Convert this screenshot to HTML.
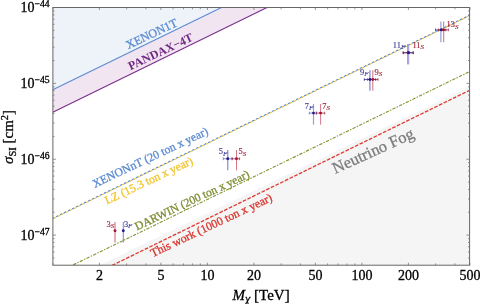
<!DOCTYPE html>
<html><head><meta charset="utf-8"><title>plot</title>
<style>
html,body{margin:0;padding:0;background:#fff;}
body{width:480px;height:304px;overflow:hidden;}
svg{display:block;}
text{font-family:"Liberation Serif","DejaVu Serif",serif;stroke-width:0.3px;}
</style></head><body>
<svg width="480" height="304" viewBox="0 0 480 304">
<rect width="480" height="304" fill="#fff"/>

<defs><clipPath id="fr"><rect x="52.9" y="7.5" width="416.70000000000005" height="257.7"/></clipPath></defs>
<g clip-path="url(#fr)">
<polygon points="0,-100 0.00,115.62 520.00,-138.21 520,-100" fill="#edf3f9"/>
<polygon points="0.00,115.62 0.00,138.19 520.00,-116.34 520.00,-138.21" fill="#f1e5f1"/>
<polygon points="0.00,313.66 520.00,62.12 520,400 0,400" fill="#f5f5f5"/>
<line x1="0.00" y1="115.62" x2="520.00" y2="-138.21" stroke="#5b8bd0" stroke-width="1.1"/>
<line x1="0.00" y1="138.19" x2="520.00" y2="-116.34" stroke="#7a2d8c" stroke-width="1.1"/>
<line x1="0.00" y1="244.58" x2="520.00" y2="-8.87" stroke="#f4c936" stroke-width="1.15" stroke-dasharray="2.5 1.95" stroke-dashoffset="2.2"/>
<line x1="0.00" y1="244.08" x2="520.00" y2="-9.37" stroke="#5b8bd0" stroke-width="1.15" stroke-dasharray="2.4 2.05"/>
<line x1="0.00" y1="300.55" x2="520.00" y2="47.03" stroke="#869637" stroke-width="1.15" stroke-dasharray="3.4 1.3 1.4 1.3"/>
<line x1="0.00" y1="320.35" x2="520.00" y2="65.61" stroke="#dd3a32" stroke-width="1.3" stroke-dasharray="3.7 1.5"/>
</g>
<rect x="52.9" y="7.5" width="416.70000000000005" height="257.7" fill="none" stroke="#666" stroke-width="1"/>
<path d="M52.90,265.2v-1.8M52.90,7.5v1.8M99.41,265.2v-2.5M99.41,7.5v2.5M126.62,265.2v-1.8M126.62,7.5v1.8M145.92,265.2v-1.8M145.92,7.5v1.8M160.89,265.2v-2.5M160.89,7.5v2.5M173.12,265.2v-1.8M173.12,7.5v1.8M183.47,265.2v-1.8M183.47,7.5v1.8M192.43,265.2v-1.8M192.43,7.5v1.8M200.33,265.2v-1.8M200.33,7.5v1.8M207.40,265.2v-2.5M207.40,7.5v2.5M253.91,265.2v-2.5M253.91,7.5v2.5M281.12,265.2v-1.8M281.12,7.5v1.8M300.42,265.2v-1.8M300.42,7.5v1.8M315.39,265.2v-2.5M315.39,7.5v2.5M327.62,265.2v-1.8M327.62,7.5v1.8M337.97,265.2v-1.8M337.97,7.5v1.8M346.93,265.2v-1.8M346.93,7.5v1.8M354.83,265.2v-1.8M354.83,7.5v1.8M361.90,265.2v-2.5M361.90,7.5v2.5M408.41,265.2v-2.5M408.41,7.5v2.5M435.62,265.2v-1.8M435.62,7.5v1.8M454.92,265.2v-1.8M454.92,7.5v1.8M469.89,265.2v-2.5M469.89,7.5v2.5M52.9,257.95h1.6M469.6,257.95h-1.6M52.9,251.94h1.6M469.6,251.94h-1.6M52.9,246.86h1.6M469.6,246.86h-1.6M52.9,242.46h1.6M469.6,242.46h-1.6M52.9,238.58h1.6M469.6,238.58h-1.6M52.9,235.11h3.2M469.6,235.11h-3.2M52.9,212.27h1.6M469.6,212.27h-1.6M52.9,198.91h1.6M469.6,198.91h-1.6M52.9,189.43h1.6M469.6,189.43h-1.6M52.9,182.08h1.6M469.6,182.08h-1.6M52.9,176.07h1.6M469.6,176.07h-1.6M52.9,170.99h1.6M469.6,170.99h-1.6M52.9,166.59h1.6M469.6,166.59h-1.6M52.9,162.71h1.6M469.6,162.71h-1.6M52.9,159.24h3.2M469.6,159.24h-3.2M52.9,136.40h1.6M469.6,136.40h-1.6M52.9,123.04h1.6M469.6,123.04h-1.6M52.9,113.56h1.6M469.6,113.56h-1.6M52.9,106.21h1.6M469.6,106.21h-1.6M52.9,100.20h1.6M469.6,100.20h-1.6M52.9,95.12h1.6M469.6,95.12h-1.6M52.9,90.72h1.6M469.6,90.72h-1.6M52.9,86.84h1.6M469.6,86.84h-1.6M52.9,83.37h3.2M469.6,83.37h-3.2M52.9,60.53h1.6M469.6,60.53h-1.6M52.9,47.17h1.6M469.6,47.17h-1.6M52.9,37.69h1.6M469.6,37.69h-1.6M52.9,30.34h1.6M469.6,30.34h-1.6M52.9,24.33h1.6M469.6,24.33h-1.6M52.9,19.25h1.6M469.6,19.25h-1.6M52.9,14.85h1.6M469.6,14.85h-1.6M52.9,10.97h1.6M469.6,10.97h-1.6M52.9,7.50h3.2M469.6,7.50h-3.2" stroke="#6a6a6a" stroke-width="0.7" fill="none"/>
<text x="99.4" y="280.2" font-size="14" text-anchor="middle" fill="#000" stroke="#000">2</text>
<text x="160.9" y="280.2" font-size="14" text-anchor="middle" fill="#000" stroke="#000">5</text>
<text x="207.4" y="280.2" font-size="14" text-anchor="middle" fill="#000" stroke="#000">10</text>
<text x="253.9" y="280.2" font-size="14" text-anchor="middle" fill="#000" stroke="#000">20</text>
<text x="315.4" y="280.2" font-size="14" text-anchor="middle" fill="#000" stroke="#000">50</text>
<text x="361.9" y="280.2" font-size="14" text-anchor="middle" fill="#000" stroke="#000">100</text>
<text x="408.4" y="280.2" font-size="14" text-anchor="middle" fill="#000" stroke="#000">200</text>
<text x="469.9" y="280.2" font-size="14" text-anchor="middle" fill="#000" stroke="#000">500</text>
<text x="20.6" y="12.3" font-size="14" fill="#000" stroke="#000">10<tspan dy="-5.4" font-size="9.6">−44</tspan></text>
<text x="20.6" y="88.2" font-size="14" fill="#000" stroke="#000">10<tspan dy="-5.4" font-size="9.6">−45</tspan></text>
<text x="20.6" y="164.0" font-size="14" fill="#000" stroke="#000">10<tspan dy="-5.4" font-size="9.6">−46</tspan></text>
<text x="20.6" y="239.9" font-size="14" fill="#000" stroke="#000">10<tspan dy="-5.4" font-size="9.6">−47</tspan></text>
<text x="232.5" y="300" font-size="15" fill="#000" stroke="#000"><tspan font-style="italic">M</tspan><tspan font-style="italic" font-size="12" dy="3.4">χ</tspan><tspan dy="-3.4"> [TeV]</tspan></text>
<text transform="translate(13.3,164) rotate(-90)" font-size="15" fill="#000" stroke="#000"><tspan font-style="italic">σ</tspan><tspan font-size="10.5" dy="2.5">SI</tspan><tspan dy="-2.5"> [cm</tspan><tspan font-size="10.5" dy="-5.5">2</tspan><tspan dy="5.5">]</tspan></text>
<text transform="translate(128.3,49.2) rotate(-25.3)" font-size="12.0" fill="#5b8bd0"  stroke="#5b8bd0">XENON1T</text>
<text transform="translate(130.5,70.2) rotate(-25.3)" font-size="11.95" fill="#6f2a82" font-weight="bold">PANDAX−4T</text>
<text transform="translate(94.7,187.89999999999998) rotate(-25.3)" font-size="11.75" fill="#5b8bd0"  stroke="#5b8bd0">XENONnT (20 ton x year)</text>
<text transform="translate(107.0,204.5) rotate(-25.3)" font-size="11.8" fill="#f2c52e"  stroke="#f2c52e">LZ (15.3 ton x year)</text>
<text transform="translate(137.0,230.5) rotate(-25.3)" font-size="11.7" fill="#7f8f35"  stroke="#7f8f35">DARWIN (200 ton x year)</text>
<text transform="translate(152.7,257.2) rotate(-25.3)" font-size="11.85" fill="#d8352e"  stroke="#d8352e">This work (1000 ton x year)</text>
<text transform="translate(335.3,173.89999999999998) rotate(-24.5)" font-size="16.4" fill="#7d7d7d"  stroke="#7d7d7d">Neutrino Fog</text>
<line x1="115" y1="222" x2="115" y2="242.5" stroke="#d4788a" stroke-width="1.2"/>
<line x1="123.3" y1="222" x2="123.3" y2="242.5" stroke="#7070c8" stroke-width="0.9"/>
<circle cx="115" cy="230.8" r="1.45" fill="#a3122f"/>
<circle cx="123.3" cy="230.8" r="1.45" fill="#1c1c8f"/>
<text x="106.6" y="226.5" font-size="8.4" fill="#9c2236" style="stroke-width:0.15px" stroke="#9c2236">3<tspan font-style="italic" font-size="6.9" dy="1.4">S</tspan></text>
<text x="123.9" y="226.5" font-size="8.4" fill="#3a3a96" style="stroke-width:0.15px" stroke="#3a3a96">3<tspan font-style="italic" font-size="6.9" dy="1.4">F</tspan></text>
<line x1="227.75" y1="150" x2="227.75" y2="170.3" stroke="#9a9add" stroke-width="1.4"/>
<line x1="236.5" y1="150" x2="236.5" y2="170.3" stroke="#d4788a" stroke-width="1.0"/>
<path d="M223.3,158.75H232.1M223.3,157.35v2.8M232.1,157.35v2.8" stroke="#5a5ab8" stroke-width="0.7" fill="none"/>
<path d="M232.1,158.75H239.6M232.1,157.35v2.8M239.6,157.35v2.8" stroke="#a3122f" stroke-width="0.7" fill="none"/>
<circle cx="227.75" cy="158.75" r="1.45" fill="#1c1c8f"/>
<circle cx="236.5" cy="158.75" r="1.45" fill="#a3122f"/>
<text x="218.8" y="154.3" font-size="8.4" fill="#3a3a96" style="stroke-width:0.15px" stroke="#3a3a96">5<tspan font-style="italic" font-size="6.9" dy="1.4">F</tspan></text>
<text x="238.6" y="154.3" font-size="8.4" fill="#9c2236" style="stroke-width:0.15px" stroke="#9c2236">5<tspan font-style="italic" font-size="6.9" dy="1.4">S</tspan></text>
<line x1="313.5" y1="104" x2="313.5" y2="124.7" stroke="#9a9add" stroke-width="1.2"/>
<line x1="320.6" y1="104" x2="320.6" y2="124.7" stroke="#d4788a" stroke-width="1.0"/>
<path d="M309.3,113.1H316.4M309.3,111.69999999999999v2.8M316.4,111.69999999999999v2.8" stroke="#5a5ab8" stroke-width="0.7" fill="none"/>
<path d="M316.4,113.1H324.7M316.4,111.69999999999999v2.8M324.7,111.69999999999999v2.8" stroke="#a3122f" stroke-width="0.7" fill="none"/>
<circle cx="313.5" cy="113.1" r="1.45" fill="#1c1c8f"/>
<circle cx="320.6" cy="113.1" r="1.45" fill="#a3122f"/>
<text x="304.8" y="108.5" font-size="8.4" fill="#3a3a96" style="stroke-width:0.15px" stroke="#3a3a96">7<tspan font-style="italic" font-size="6.9" dy="1.4">F</tspan></text>
<text x="322.3" y="108.5" font-size="8.4" fill="#9c2236" style="stroke-width:0.15px" stroke="#9c2236">7<tspan font-style="italic" font-size="6.9" dy="1.4">S</tspan></text>
<line x1="369.9" y1="70.3" x2="369.9" y2="90.8" stroke="#9a9add" stroke-width="1.5"/>
<line x1="372.8" y1="70.3" x2="372.8" y2="90.8" stroke="#d4788a" stroke-width="1.1"/>
<path d="M364.3,79.5H375.7M364.3,78.1v2.8M375.7,78.1v2.8" stroke="#1c1c8f" stroke-width="0.7" fill="none"/>
<path d="M367.4,79.5H378M367.4,78.1v2.8M378,78.1v2.8" stroke="#a3122f" stroke-width="0.7" fill="none"/>
<circle cx="369.9" cy="79.5" r="1.45" fill="#1c1c8f"/>
<circle cx="372.8" cy="79.5" r="1.45" fill="#a3122f"/>
<text x="360.1" y="74.7" font-size="8.4" fill="#3a3a96" style="stroke-width:0.15px" stroke="#3a3a96">9<tspan font-style="italic" font-size="6.9" dy="1.4">F</tspan></text>
<text x="374.5" y="74.7" font-size="8.4" fill="#9c2236" style="stroke-width:0.15px" stroke="#9c2236">9<tspan font-style="italic" font-size="6.9" dy="1.4">S</tspan></text>
<line x1="407.7" y1="44" x2="407.7" y2="64.4" stroke="#d4788a" stroke-width="1.0"/>
<line x1="408.7" y1="44" x2="408.7" y2="64.4" stroke="#9a9add" stroke-width="1.0"/>
<path d="M403,52.75H413.4M403,51.35v2.8M413.4,51.35v2.8" stroke="#a3122f" stroke-width="0.7" fill="none"/>
<path d="M403.3,52.75H413.1M403.3,51.35v2.8M413.1,51.35v2.8" stroke="#1c1c8f" stroke-width="0.7" fill="none"/>
<circle cx="408.2" cy="52.75" r="1.45" fill="#a3122f"/>
<circle cx="408.6" cy="52.75" r="1.45" fill="#1c1c8f"/>
<text x="392.8" y="47.75" font-size="8.4" fill="#3a3a96" style="stroke-width:0.15px" stroke="#3a3a96">11<tspan font-style="italic" font-size="6.9" dy="1.4">F</tspan></text>
<text x="412.4" y="47.75" font-size="8.4" fill="#9c2236" style="stroke-width:0.15px" stroke="#9c2236">11<tspan font-style="italic" font-size="6.9" dy="1.4">S</tspan></text>
<line x1="440.9" y1="21.6" x2="440.9" y2="42.2" stroke="#9a9add" stroke-width="1.2"/>
<line x1="443.7" y1="21.6" x2="443.7" y2="42.2" stroke="#d4788a" stroke-width="1.1"/>
<path d="M435.5,29.9H445.9M435.5,28.5v2.8M445.9,28.5v2.8" stroke="#1c1c8f" stroke-width="0.7" fill="none"/>
<path d="M438.4,29.9H448.4M438.4,28.5v2.8M448.4,28.5v2.8" stroke="#a3122f" stroke-width="0.7" fill="none"/>
<circle cx="441.3" cy="29.9" r="1.45" fill="#1c1c8f"/>
<circle cx="443.5" cy="29.9" r="1.45" fill="#a3122f"/>
<text x="446.6" y="27.4" font-size="8.4" fill="#9c2236" style="stroke-width:0.15px" stroke="#9c2236">13<tspan font-style="italic" font-size="6.9" dy="1.4">S</tspan></text>
</svg></body></html>
